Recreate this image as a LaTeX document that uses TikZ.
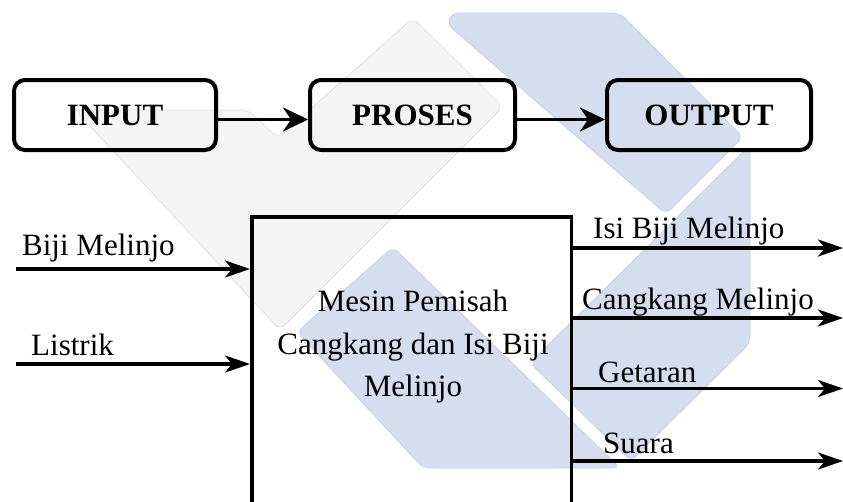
\documentclass[tikz,border=0pt]{standalone}
\usepackage{fontspec}
\setmainfont{Liberation Serif}
\usetikzlibrary{arrows.meta}
\definecolor{wmgray}{RGB}{244,244,244}
\definecolor{wmgrayedge}{RGB}{226,226,226}
\definecolor{wmblue}{RGB}{213,222,239}
\definecolor{wmblueedge}{RGB}{198,209,230}
\begin{document}
\begin{tikzpicture}[x=1pt,y=-1pt,
  stage/.style={draw=black, line width=4pt, rounded corners=11pt, minimum width=202pt, minimum height=70pt, font=\fontsize{31}{37}\selectfont\bfseries, inner sep=0pt},
  machine/.style={draw=black, line width=3.5pt, minimum width=319.5pt, minimum height=343.5pt, inner sep=0pt},
  flowarrow/.style={line width=3.5pt, -{Stealth[length=25pt,width=24pt,inset=8pt]}},
  ioarrow/.style={line width=3.5pt, -{Stealth[length=25pt,width=17pt,inset=7pt]}},
  lbl/.style={font=\fontsize{31}{37}\selectfont, inner sep=0pt, anchor=base west},
  wmg/.style={fill=wmgray, draw=wmgrayedge, line width=0.8pt, rounded corners=7pt},
  wmb/.style={fill=wmblue, draw=wmblueedge, line width=0.8pt, rounded corners=7pt}]
\useasboundingbox (0,0) rectangle (843,501);
\clip (0,0) rectangle (843,501);
\fill[white] (0,0) rectangle (843,501);
% watermark
\path[wmg] (75,110) -- (248,110) -- (278,138) -- (413,18) -- (503,107) -- (280,330) -- cycle;
\path[wmb] (452,13) -- (620,13) -- (743,137) -- (666,214) -- (447,24) -- cycle;
\path[wmb] (750,145) -- (750,343) -- (631,461) -- (530,363) -- cycle;
\path[wmb] (393,247) -- (620,468) -- (423,468) -- (297,332) -- cycle;
% stages
\node[stage] (inp) at (115,115) {INPUT};
\node[stage, minimum width=205pt] (pro) at (412.5,115) {PROSES};
\node[stage, minimum width=204pt] (out) at (709,115) {OUTPUT};
\draw[flowarrow] ([yshift=-4.5pt]inp.east) -- ([yshift=-4.5pt]pro.west);
\draw[flowarrow] ([yshift=-4.5pt]pro.east) -- ([yshift=-4.5pt]out.west);
% machine
\node[machine] (mesin) at (411.5,388.5) {};
\node[font=\fontsize{31}{42.5}\selectfont, align=center, inner sep=0pt] (mesintxt) at (413,347) {Mesin Pemisah\\Cangkang dan Isi Biji\\Melinjo};
% inputs
\coordinate (bijiS) at (16,269);
\coordinate (listrikS) at (16,364);
\draw[ioarrow] (bijiS) -- (bijiS -| mesin.west);
\draw[ioarrow] (listrikS) -- (listrikS -| mesin.west);
\node[lbl] (bijiL) at (22,255) {Biji Melinjo};
\node[lbl] (listrikL) at (31,355) {Listrik};
% outputs
\coordinate (isiE) at (843,248);
\coordinate (cangE) at (843,318);
\coordinate (getE) at (843,388.5);
\coordinate (suaE) at (843,461);
\draw[ioarrow] (isiE -| mesin.east) -- (isiE);
\draw[ioarrow] (cangE -| mesin.east) -- (cangE);
\draw[ioarrow] (getE -| mesin.east) -- (getE);
\draw[ioarrow] (suaE -| mesin.east) -- (suaE);
\node[lbl] (isiL) at (593,238) {Isi Biji Melinjo};
\node[lbl] (cangL) at (582,309) {Cangkang Melinjo};
\node[lbl] (getL) at (598,382) {Getaran};
\node[lbl] (suaL) at (603,453) {Suara};
\end{tikzpicture}
\end{document}
